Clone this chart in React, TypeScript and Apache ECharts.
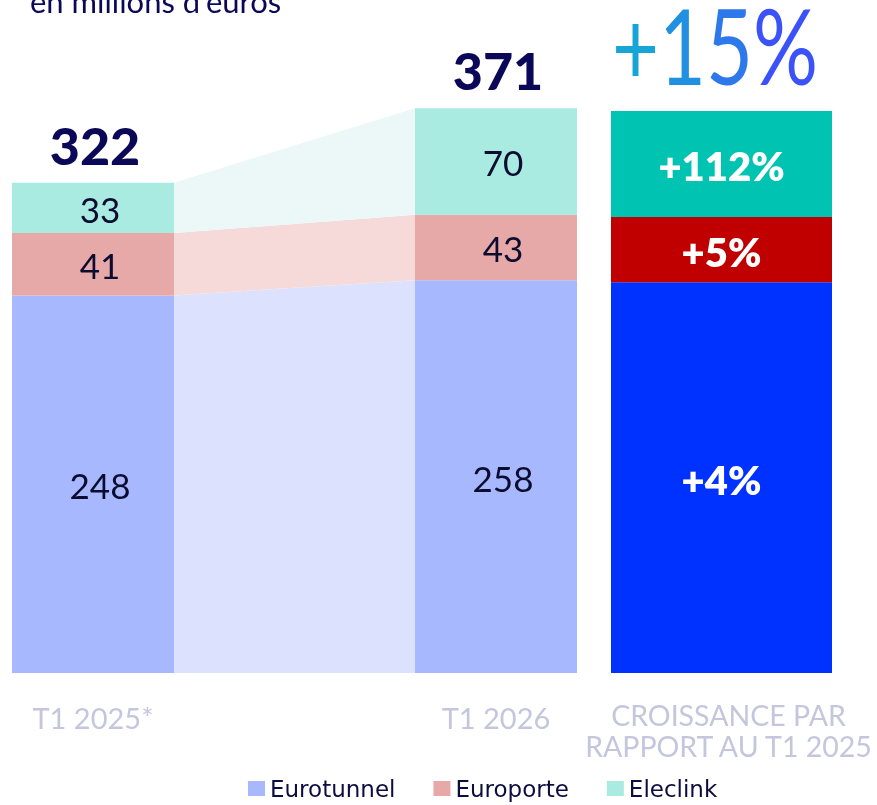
import React, { useEffect, useRef } from 'react';
import * as echarts from 'echarts';

const categories = ['T1 2025*', 'T1 2026'];
const seriesNames = ['Eurotunnel', 'Europorte', 'Eleclink'];
const eurotunnel = [248, 258];
const europorte = [41, 43];
const eleclink = [33, 70];
const growthLabels = ['+4%', '+5%', '+112%'];
const growthTitle = 'CROISSANCE PAR\nRAPPORT AU T1 2025';
const totalGrowth = ['+', '1', '5', '%'];
const subtitle = "en millions d'euros";

const FONT = 'Lato, "Noto Sans", sans-serif';
const LEGEND_FONT = '"DejaVu Sans", sans-serif';
const barColors = ['#a7b8fe', '#e7a8a8', '#a9eae1'];
const bridgeColors = ['#dce2fe', '#f6dada', '#ebf8f7'];
const growthColors = ['#0032ff', '#c00000', '#00c4b1'];
const gradientStops = ['#17a4d6', '#2190e0', '#2d78ea', '#3b52f9'];
const slots = [
  [0, 162],
  [403, 565],
];
const growthSlot = [599, 820];

export default function App() {
  const ref = useRef<HTMLDivElement>(null);
  useEffect(() => {
    const chart = echarts.init(ref.current!, null, { renderer: 'svg' });
    const values = [eurotunnel, europorte, eleclink];
    const bases = values.map((_, k) =>
      categories.map((__, j) => values.slice(0, k).reduce((s, arr) => s + arr[j], 0))
    );
    const totals = categories.map((_, j) => values.reduce((s, arr) => s + arr[j], 0));

    const companySeries = values.map((v, k) => ({
      type: 'custom',
      name: seriesNames[k],
      itemStyle: { color: barColors[k] },
      yAxisIndex: 0,
      data: [[0, 0]],
      silent: true,
      z: 2,
      renderItem: (params: any, api: any) => {
        const b = bases[k];
        const children: any[] = [];
        const p1t = api.coord([slots[0][1], b[0] + v[0]]);
        const p1b = api.coord([slots[0][1], b[0]]);
        const p2t = api.coord([slots[1][0], b[1] + v[1]]);
        const p2b = api.coord([slots[1][0], b[1]]);
        children.push({
          type: 'polygon',
          shape: { points: [p1t, p2t, p2b, p1b] },
          style: { fill: bridgeColors[k] },
        });
        for (let j = 0; j < categories.length; j++) {
          const tl = api.coord([slots[j][0], b[j] + v[j]]);
          const br = api.coord([slots[j][1], b[j]]);
          children.push({
            type: 'rect',
            shape: { x: tl[0], y: tl[1], width: br[0] - tl[0], height: br[1] - tl[1] },
            style: { fill: barColors[k] },
          });
          children.push({
            type: 'text',
            style: {
              text: String(v[j]),
              x: (tl[0] + br[0]) / 2 + 7,
              y: (tl[1] + br[1]) / 2 + 1,
              align: 'center',
              verticalAlign: 'middle',
              font: `400 35px ${FONT}`,
              fill: '#0c0c30',
            },
          });
        }
        return { type: 'group', children };
      },
    }));

    const growthSeries = {
      type: 'custom',
      name: 'growth',
      yAxisIndex: 1,
      data: [[0, 0]],
      silent: true,
      z: 2,
      renderItem: (params: any, api: any) => {
        const children: any[] = [];
        const j = 1;
        values.forEach((v, k) => {
          const b = bases[k];
          const tl = api.coord([growthSlot[0], b[j] + v[j]]);
          const br = api.coord([growthSlot[1], b[j]]);
          children.push({
            type: 'rect',
            shape: { x: tl[0], y: tl[1], width: br[0] - tl[0], height: br[1] - tl[1] },
            style: { fill: growthColors[k] },
          });
          children.push({
            type: 'text',
            style: {
              text: growthLabels[k],
              x: (tl[0] + br[0]) / 2,
              y: (tl[1] + br[1]) / 2 + 2,
              align: 'center',
              verticalAlign: 'middle',
              font: `800 40px ${FONT}`,
              fill: '#ffffff',
            },
          });
        });
        const bl = api.coord([(growthSlot[0] + growthSlot[1]) / 2, 0]);
        children.push({
          type: 'text',
          style: {
            text: growthTitle,
            x: bl[0] + 7,
            y: bl[1] + 57,
            align: 'center',
            verticalAlign: 'middle',
            font: `400 28.5px ${FONT}`,
            lineHeight: 31,
            fill: '#c5c6de',
          },
        });
        return { type: 'group', children };
      },
    };

    const labelSeries = {
      type: 'custom',
      name: 'labels',
      yAxisIndex: 0,
      data: [[0, 0]],
      silent: true,
      z: 3,
      renderItem: (params: any, api: any) => {
        const children: any[] = [];
        categories.forEach((c, j) => {
          const cx = (slots[j][0] + slots[j][1]) / 2;
          const top = api.coord([cx, totals[j]]);
          const bot = api.coord([cx, 0]);
          children.push({
            type: 'text',
            style: {
              text: String(totals[j]),
              x: top[0] + 2,
              y: top[1] - 38,
              align: 'center',
              verticalAlign: 'middle',
              font: `900 52px ${FONT}`,
              fill: '#0b0858',
            },
          });
          children.push({
            type: 'text',
            style: {
              text: c,
              x: bot[0],
              y: bot[1] + 44,
              align: 'center',
              verticalAlign: 'middle',
              font: `400 29px ${FONT}`,
              fill: '#c5c6de',
            },
          });
        });
        return { type: 'group', children };
      },
    };

    const rich: any = {};
    totalGrowth.forEach((ch, i) => {
      rich['c' + i] = {
        font: `400 104px ${FONT}`,
        lineHeight: 80,
        fill: gradientStops[i],
      };
    });

    chart.setOption({
      animation: false,
      grid: { left: 12, right: 45, top: 64, bottom: 132 },
      xAxis: { type: 'value', min: 0, max: 820, show: false },
      yAxis: [
        { type: 'value', min: 0, max: 400, show: false },
        { type: 'value', min: 0, max: 402, show: false },
      ],
      legend: {
        data: seriesNames,
        left: 248,
        top: 777,
        padding: 0,
        icon: 'rect',
        itemWidth: 17,
        itemHeight: 15,
        itemGap: 38,
        selectedMode: false,
        textStyle: { fontFamily: LEGEND_FONT, fontSize: 23, lineHeight: 23, color: '#0c0c40' },
      },
      graphic: [
        {
          type: 'text',
          x: 30,
          y: 16,
          style: {
            text: subtitle,
            verticalAlign: 'bottom',
            font: `400 31px ${FONT}`,
            fill: '#0b0858',
          },
        },
        {
          type: 'text',
          x: 715,
          y: 45,
          scaleX: 0.78,
          style: {
            text: totalGrowth.map((ch, i) => `{c${i}|${ch}}`).join(''),
            rich,
            align: 'center',
            verticalAlign: 'middle',
            font: `400 104px ${FONT}`,
          },
        },
      ],
      series: [...companySeries, growthSeries, labelSeries],
    });
    return () => chart.dispose();
  }, []);
  return (
    <div
      ref={ref}
      style={{ position: 'fixed', left: 0, top: 0, width: 877, height: 805 }}
    />
  );
}
